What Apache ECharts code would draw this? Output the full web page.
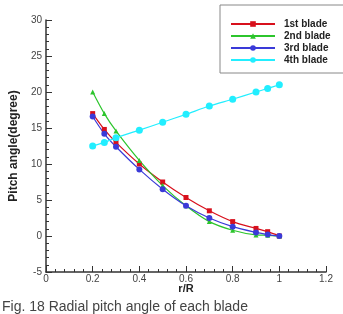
<!DOCTYPE html>
<html lang="en">
<head>
    <meta charset="UTF-8">
    <title>Radial pitch angle</title>
    <script src="https://cdn.jsdelivr.net/npm/echarts@6/dist/echarts.min.js"></script>
    <style>
        html, body { margin: 0; padding: 0; background: #fff; }
        #chart { width: 343px; height: 314px; }
    </style>
</head>
<body>
    <div id="chart"></div>
    <script>
        // r/R positions and pitch angle of each blade (degree)
        var rR = [0.2, 0.25, 0.3, 0.4, 0.5, 0.6, 0.7, 0.8, 0.9, 0.95, 1.0];
        var blade1 = [17.0, 14.8, 13.0, 10.0, 7.5, 5.35, 3.5, 2.0, 1.05, 0.6, 0.0];
        var blade2 = [20.0, 17.0, 14.6, 10.5, 7.0, 4.2, 2.0, 0.8, 0.15, 0.1, 0.0];
        var blade3 = [16.6, 14.2, 12.4, 9.25, 6.5, 4.2, 2.5, 1.3, 0.5, 0.2, 0.0];
        var blade4 = [12.5, 13.0, 13.65, 14.7, 15.8, 16.9, 18.05, 19.0, 20.0, 20.5, 21.0];
        var names = ['1st blade', '2nd blade', '3rd blade', '4th blade'];

        function pairs(ys) {
            var out = [];
            for (var i = 0; i < rR.length; i++) out.push([rR[i], ys[i]]);
            return out;
        }

        function line(name, ys, color, symbol, size) {
            return {
                name: name,
                type: 'line',
                smooth: 0.3,
                symbol: symbol,
                symbolSize: size,
                lineStyle: { color: color, width: 1.2 },
                itemStyle: { color: color },
                data: pairs(ys)
            };
        }

        var myChart = echarts.init(document.getElementById('chart'));
        var axisText = { color: '#444', fontSize: 10, fontFamily: 'Liberation Sans, Arial' };

        var option = {
            animation: false,
            title: {
                text: 'Fig. 18 Radial pitch angle of each blade',
                left: 2,
                top: 300,
                padding: 0,
                textStyle: { fontSize: 14, fontWeight: 'normal', color: '#444', fontFamily: 'Liberation Sans, Arial' }
            },
            legend: {
                data: names,
                orient: 'vertical',
                left: 220,
                top: 5,
                padding: [13, 14, 7, 10],
                itemGap: 0,
                itemWidth: 44,
                itemHeight: 7,
                borderColor: '#888',
                borderWidth: 1,
                textStyle: { fontSize: 10, fontWeight: 'bold', color: '#222', lineHeight: 12, padding: [0, 0, 0, 4], fontFamily: 'Liberation Sans, Arial' }
            },
            grid: { left: 36, right: 17, top: 20, bottom: 42 },
            xAxis: {
                type: 'value',
                min: 0,
                max: 1.2,
                interval: 0.2,
                name: 'r/R',
                nameLocation: 'middle',
                nameGap: 11,
                nameMoveOverlap: false,
                nameTextStyle: { fontSize: 11, fontWeight: 'bold', color: '#222', fontFamily: 'Liberation Sans, Arial' },
                axisLine: { onZero: false, lineStyle: { color: '#333', width: 1.5 } },
                axisTick: { inside: true, length: 6, lineStyle: { color: '#333' } },
                minorTick: { show: true, splitNumber: 5, length: 3, lineStyle: { color: '#333' } },
                axisLabel: Object.assign({ margin: 2 }, axisText),
                splitLine: { show: false }
            },
            yAxis: {
                type: 'value',
                min: -5,
                max: 30,
                interval: 5,
                name: 'Pitch angle(degree)',
                nameLocation: 'middle',
                nameGap: 26,
                nameMoveOverlap: false,
                nameTextStyle: { fontSize: 12, fontWeight: 'bold', color: '#222', fontFamily: 'Liberation Sans, Arial' },
                axisLine: { show: true, onZero: false, lineStyle: { color: '#333', width: 1.5 } },
                axisTick: { show: true, inside: true, length: 6, lineStyle: { color: '#333' } },
                minorTick: { show: true, splitNumber: 5, length: 3, lineStyle: { color: '#333' } },
                axisLabel: Object.assign({ margin: 4 }, axisText),
                splitLine: { show: false }
            },
            series: [
                line(names[0], blade1, '#d8101c', 'rect', 5),
                line(names[1], blade2, '#2cc52c', 'triangle', 5),
                line(names[2], blade3, '#3a3ad8', 'circle', 6),
                line(names[3], blade4, '#22eeff', 'circle', 7)
            ]
        };
        myChart.setOption(option);
    </script>
</body>
</html>
